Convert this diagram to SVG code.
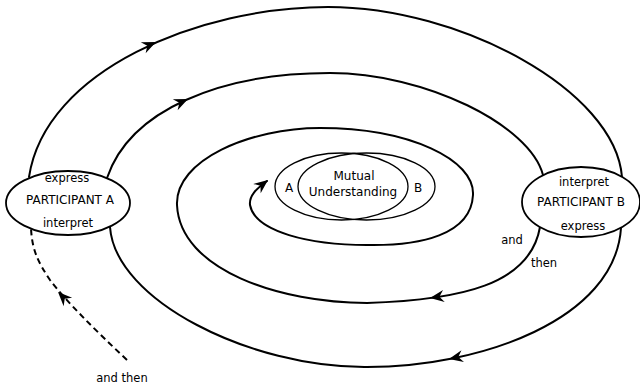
<svg xmlns="http://www.w3.org/2000/svg" xmlns:xlink="http://www.w3.org/1999/xlink" width="640" height="385" viewBox="0 0 640 385">
<style>
.flow{fill:none;stroke:#000;stroke-width:2;stroke-linecap:round}
.dash{fill:none;stroke:#000;stroke-width:2;stroke-dasharray:6 4}
.node{fill:#fff;stroke:#000;stroke-width:1.8}
.mu{fill:none;stroke:#000;stroke-width:1.3}
text{font-family:"DejaVu Sans","Liberation Sans",sans-serif;fill:#000;text-anchor:middle}
.big{font-size:12px}
.small{font-size:11.5px}
</style>
<defs>
<path id="ah" d="M0,0 L-14,-6 L-9.5,0 L-14,6 Z" fill="#000"/>
</defs>
<rect width="640" height="385" fill="#fff"/>
<g id="connectors">
<path class="flow" d="M29,177 C45,70 200,7 328,7 C460,7 615,90 622,177"/>
<path class="flow" d="M107,178 C130,110 220,73 330,73 C425,73 530,125 543,175"/>
<path class="flow" d="M110,227 C115,300 250,368 367,367 C480,367 615,320 621,228"/>
<path class="flow" d="M540,227 C530,285 460,300 367,303 C280,303 180,270 177,205 C175,160 250,128 320,128 C410,128 475,160 473,195 C471,235 420,246 367,245 C310,245 255,232 250,205 C249,196 256,189 267,181"/>
<path class="dash" d="M127,360 C95,330 65,300 50,280 C38,262 32,250 31,228"/>
<use xlink:href="#ah" transform="translate(156,42) rotate(-24)"/>
<use xlink:href="#ah" transform="translate(188,99) rotate(-24)"/>
<use xlink:href="#ah" transform="translate(449,359) rotate(168)"/>
<use xlink:href="#ah" transform="translate(430,298) rotate(172)"/>
<use xlink:href="#ah" transform="translate(268,180) rotate(-38)"/>
<use xlink:href="#ah" transform="translate(58,292) rotate(-135)"/>
</g>
<g id="participant-a">
<ellipse class="node" cx="68" cy="203" rx="62" ry="32"/>
<text class="small" x="67" y="182">express</text>
<text class="big" x="70" y="204">PARTICIPANT A</text>
<text class="small" x="68" y="227">interpret</text>
</g>
<g id="participant-b">
<ellipse class="node" cx="581" cy="202" rx="59" ry="35"/>
<text class="small" x="584" y="186">interpret</text>
<text class="big" x="581" y="206">PARTICIPANT B</text>
<text class="small" x="583" y="230">express</text>
</g>
<g id="mutual-understanding">
<ellipse class="mu" cx="341.5" cy="186.5" rx="66.5" ry="33.5"/>
<ellipse class="mu" cx="366.5" cy="186.5" rx="68.5" ry="33.5"/>
<text class="big" x="289" y="192">A</text>
<text class="big" x="418" y="192">B</text>
<text class="big" x="354" y="180">Mutual</text>
<text class="big" x="353" y="196">Understanding</text>
</g>
<g id="labels">
<text class="small" x="512" y="244">and</text>
<text class="small" x="544" y="267">then</text>
<text class="small" x="122" y="382">and then</text>
</g>
</svg>
